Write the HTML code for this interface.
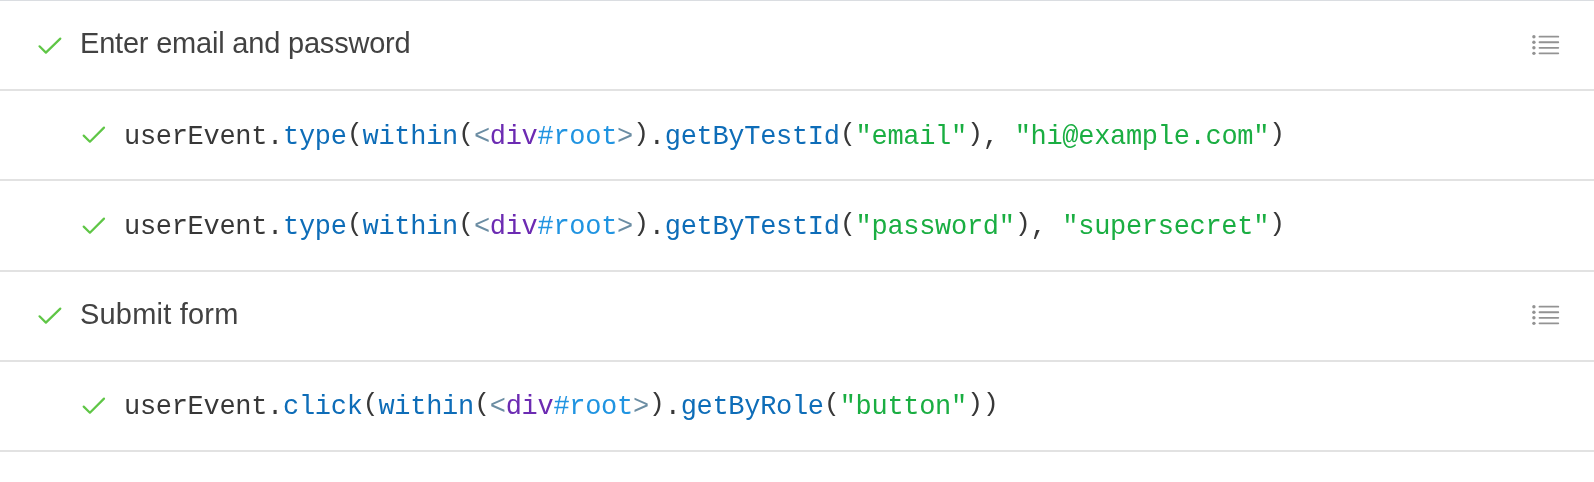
<!DOCTYPE html>
<html>
<head>
<meta charset="utf-8">
<style>
html,body{margin:0;padding:0;background:#fff;}
body{width:1594px;height:482px;position:relative;overflow:hidden;}
.hl{position:absolute;left:0;width:1594px;background:#e2e2e2;}
.t{position:absolute;font-family:"Liberation Sans",sans-serif;font-size:29px;line-height:28px;color:#424242;white-space:pre;will-change:transform;}
.c{position:absolute;font-family:"Liberation Mono",monospace;font-size:27px;letter-spacing:-0.3px;line-height:28px;color:#383838;white-space:pre;will-change:transform;transform:scaleY(1.05);transform-origin:0 22px;}
.pr{font-style:normal;display:inline-block;transform:translateY(-1.5px) scaleY(0.88);transform-origin:50% 14px;}
.ck{position:absolute;width:30px;height:24px;}
.li{position:absolute;width:30px;height:24px;}
.b{color:#0e6db8}
.lb{color:#2094e1}
.gb{color:#6b8da3}
.p{color:#6c2bb2}
.g{color:#1aae42}
</style>
</head>
<body>
<div class="hl" style="top:0;height:1px;background:#dadde1"></div>
<div class="hl" style="top:89px;height:2px"></div>
<div class="hl" style="top:179px;height:2px"></div>
<div class="hl" style="top:270px;height:2px"></div>
<div class="hl" style="top:360px;height:2px"></div>
<div class="hl" style="top:450px;height:2px"></div>

<!-- row 1 -->
<svg class="ck" style="left:34.4px;top:32.8px" viewBox="0 0 30 24"><path d="M5.5 13.3 L11.9 19.6 L26.3 5.6" fill="none" stroke="#5fc646" stroke-width="2.2" stroke-linecap="round" stroke-linejoin="round"/></svg>
<div class="t" style="left:80px;top:29px;letter-spacing:-0.2px">Enter email and password</div>
<svg class="li" style="left:1530px;top:33px" viewBox="0 0 30 24"><g fill="#929292"><circle cx="3.9" cy="3.7" r="1.7"/><circle cx="3.9" cy="9.25" r="1.7"/><circle cx="3.9" cy="14.8" r="1.7"/><circle cx="3.9" cy="20.35" r="1.7"/></g><g stroke="#939393" stroke-width="1.8" stroke-linecap="round"><path d="M9.5 3.7H28.3M9.5 9.25H28.3M9.5 14.8H28.3M9.5 20.35H28.3"/></g></svg>

<!-- row 2 -->
<svg class="ck" style="left:78px;top:122.4px" viewBox="0 0 30 24"><path d="M5.7 13.6 L11.9 19.7 L26 5.6" fill="none" stroke="#5fc646" stroke-width="2.2" stroke-linecap="round" stroke-linejoin="round"/></svg>
<div class="c" style="left:123.5px;top:123.3px">userEvent.<span class="b">type</span><i class="pr">(</i><span class="b">within</span><i class="pr">(</i><span class="gb">&lt;</span><span class="p">div</span><span class="lb">#root</span><span class="gb">&gt;</span><i class="pr">)</i>.<span class="b">getByTestId</span><i class="pr">(</i><span class="g">"email"</span><i class="pr">)</i>, <span class="g">"hi@example.com"</span><i class="pr">)</i></div>

<!-- row 3 -->
<svg class="ck" style="left:78px;top:213.1px" viewBox="0 0 30 24"><path d="M5.7 13.6 L11.9 19.7 L26 5.6" fill="none" stroke="#5fc646" stroke-width="2.2" stroke-linecap="round" stroke-linejoin="round"/></svg>
<div class="c" style="left:123.5px;top:213.2px">userEvent.<span class="b">type</span><i class="pr">(</i><span class="b">within</span><i class="pr">(</i><span class="gb">&lt;</span><span class="p">div</span><span class="lb">#root</span><span class="gb">&gt;</span><i class="pr">)</i>.<span class="b">getByTestId</span><i class="pr">(</i><span class="g">"password"</span><i class="pr">)</i>, <span class="g">"supersecret"</span><i class="pr">)</i></div>

<!-- row 4 -->
<svg class="ck" style="left:34.4px;top:303.4px" viewBox="0 0 30 24"><path d="M5.5 13.3 L11.9 19.6 L26.3 5.6" fill="none" stroke="#5fc646" stroke-width="2.2" stroke-linecap="round" stroke-linejoin="round"/></svg>
<div class="t" style="left:80px;top:300px;letter-spacing:0.2px">Submit form</div>
<svg class="li" style="left:1530px;top:303.4px" viewBox="0 0 30 24"><g fill="#929292"><circle cx="3.9" cy="3.7" r="1.7"/><circle cx="3.9" cy="9.25" r="1.7"/><circle cx="3.9" cy="14.8" r="1.7"/><circle cx="3.9" cy="20.35" r="1.7"/></g><g stroke="#939393" stroke-width="1.8" stroke-linecap="round"><path d="M9.5 3.7H28.3M9.5 9.25H28.3M9.5 14.8H28.3M9.5 20.35H28.3"/></g></svg>

<!-- row 5 -->
<svg class="ck" style="left:78px;top:393.4px" viewBox="0 0 30 24"><path d="M5.7 13.6 L11.9 19.7 L26 5.6" fill="none" stroke="#5fc646" stroke-width="2.2" stroke-linecap="round" stroke-linejoin="round"/></svg>
<div class="c" style="left:123.5px;top:393.4px">userEvent.<span class="b">click</span><i class="pr">(</i><span class="b">within</span><i class="pr">(</i><span class="gb">&lt;</span><span class="p">div</span><span class="lb">#root</span><span class="gb">&gt;</span><i class="pr">)</i>.<span class="b">getByRole</span><i class="pr">(</i><span class="g">"button"</span><i class="pr">)</i><i class="pr">)</i></div>
</body>
</html>
